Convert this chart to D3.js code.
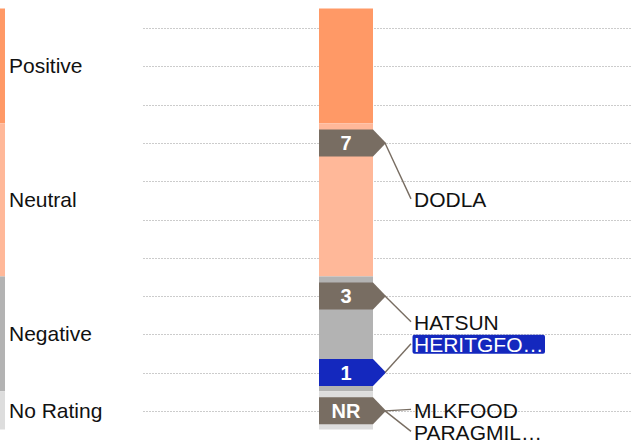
<!DOCTYPE html>
<html>
<head>
<meta charset="utf-8">
<script src="https://cdn.jsdelivr.net/npm/d3@7"></script>
<style>
  html, body { margin: 0; padding: 0; background: #fff; }
  svg { display: block; font-family: "Liberation Sans", Arial, sans-serif; }
</style>
</head>
<body>
<svg id="chart" width="632" height="444"></svg>
<script>
// ---- data ----
const rows = ["10", "9", "8", "7", "6", "5", "4", "3", "2", "1", "NR"];
const categories = ["Positive", "Neutral", "Negative", "No Rating"];
const categoryRowCounts = [3, 4, 3, 1];
const categoryColors = ["#ff9966", "#ffb899", "#b3b3b3", "#dddddd"];
const companies = ["DODLA", "HATSUN", "HERITGFO…", "MLKFOOD", "PARAGMIL…"];
const companyRatings = ["7", "3", "1", "NR", "NR"];
const highlighted = ["HERITGFO…"];

// ---- layout ----
const W = 632, H = 444;
const svg = d3.select("#chart");
const y = d3.scaleBand().domain(rows).range([8.5, 429.5]).padding(0);
const step = y.bandwidth();
const x = d3.scaleBand().domain(["bar"]).range([319, 373]).padding(0);
const badgeColor = "#786d62";
const hiColor = "#1428be";

// category spans
let start = 0;
const cats = categories.map((c, i) => {
  const r = rows.slice(start, start + categoryRowCounts[i]);
  start += categoryRowCounts[i];
  const y0 = y(r[0]), y1 = y(r[r.length - 1]) + step;
  return { name: c, rows: r, y0, y1, color: categoryColors[i] };
});

// gridlines
svg.append("g").selectAll("line").data(rows).join("line")
  .attr("x1", 143).attr("x2", W)
  .attr("y1", d => Math.round(y(d) + step / 2 + 0.5) + 0.5)
  .attr("y2", d => Math.round(y(d) + step / 2 + 0.5) + 0.5)
  .attr("stroke", "#cccccc").attr("stroke-width", 1)
  .attr("stroke-dasharray", "2,1");

// left legend strip + labels
svg.append("g").selectAll("rect").data(cats).join("rect")
  .attr("x", 0).attr("width", 5)
  .attr("y", d => d.y0).attr("height", d => d.y1 - d.y0)
  .attr("fill", d => d.color);
svg.append("g").selectAll("text").data(cats).join("text")
  .attr("x", 9).attr("y", d => (d.y0 + d.y1) / 2).attr("dy", "0.35em")
  .attr("font-size", 21).attr("fill", "#111")
  .text(d => d.name);

// bar segments
svg.append("g").selectAll("rect").data(cats).join("rect")
  .attr("x", x("bar")).attr("width", x.bandwidth())
  .attr("y", d => d.y0).attr("height", d => d.y1 - d.y0)
  .attr("fill", d => d.color);

// badges
const ratedRows = rows.filter(r => companyRatings.includes(r));
const badgeH = 27, tip = 13;
const badges = ratedRows.map(r => {
  const names = companies.filter((c, i) => companyRatings[i] === r);
  return { r, cy: y(r) + step / 2 + 0.5, hi: names.some(n => highlighted.includes(n)) };
});
const bx0 = x("bar"), bx1 = x("bar") + x.bandwidth();
const bg = svg.append("g");
bg.selectAll("path").data(badges).join("path")
  .attr("d", d => `M${bx0},${d.cy - badgeH / 2}H${bx1}L${bx1 + tip},${d.cy}L${bx1},${d.cy + badgeH / 2}H${bx0}Z`)
  .attr("fill", d => d.hi ? hiColor : badgeColor);
bg.selectAll("text").data(badges).join("text")
  .attr("x", (bx0 + bx1) / 2).attr("y", d => d.cy).attr("dy", "0.36em")
  .attr("text-anchor", "middle").attr("font-size", 20).attr("font-weight", "bold")
  .attr("fill", "#fff").text(d => d.r);

// labels, grouped by category
const lh = 22, labelX = 414;
const labels = [];
cats.forEach(cat => {
  const items = companies.map((c, i) => ({ name: c, r: companyRatings[i] }))
    .filter(d => cat.rows.includes(d.r))
    .sort((a, b) => rows.indexOf(a.r) - rows.indexOf(b.r));
  if (!items.length) return;
  const center = (cat.y0 + cat.y1) / 2;
  const topBadge = y(items[0].r) + step / 2;
  const first = Math.max(center - (items.length - 1) * lh / 2, topBadge);
  items.forEach((d, k) => labels.push({ ...d, ly: first + k * lh, by: y(d.r) + step / 2 + 0.5, hi: highlighted.includes(d.name) }));
});

const lg = svg.append("g");
lg.selectAll("line").data(labels).join("line")
  .attr("x1", bx1 + tip - 1).attr("y1", d => d.by)
  .attr("x2", labelX - 3).attr("y2", d => d.ly - 1)
  .attr("stroke", badgeColor).attr("stroke-width", 1.4);
const lt = lg.selectAll("g.lab").data(labels).join("g").attr("class", "lab");
lt.append("text")
  .attr("x", labelX).attr("y", d => d.ly).attr("dy", "0.35em")
  .attr("font-size", 21).attr("fill", d => d.hi ? "#fff" : "#111")
  .text(d => d.name);
lt.filter(d => d.hi).each(function (d) {
  const t = d3.select(this).select("text");
  const bb = t.node().getBBox();
  d3.select(this).insert("rect", "text")
    .attr("x", labelX - 1.5).attr("y", d.ly - 10)
    .attr("width", bb.width + 3).attr("height", 19).attr("rx", 2)
    .attr("fill", hiColor);
});
</script>
</body>
</html>
